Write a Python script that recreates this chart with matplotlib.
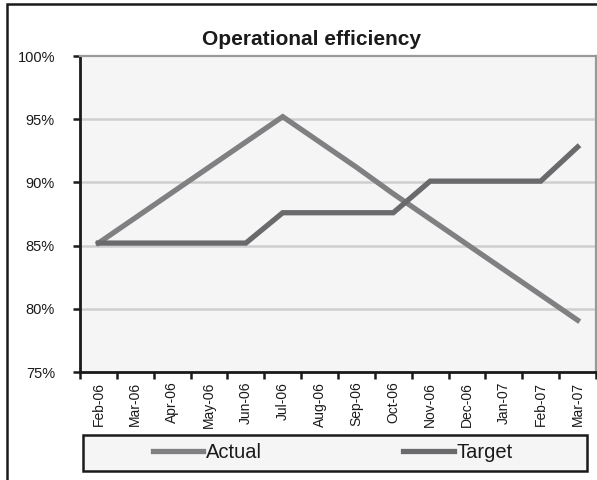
import matplotlib
matplotlib.use("Agg")
import matplotlib.pyplot as plt
from matplotlib.patches import Rectangle
from matplotlib.ticker import FixedLocator, FuncFormatter

plt.rcParams["font.family"] = ["Liberation Sans", "DejaVu Sans"]

# ---- data ----
months = ["Feb-06", "Mar-06", "Apr-06", "May-06", "Jun-06", "Jul-06", "Aug-06",
          "Sep-06", "Oct-06", "Nov-06", "Dec-06", "Jan-07", "Feb-07", "Mar-07"]
actual = [85.2, 87.2, 89.2, 91.2, 93.2, 95.2, 93.2, 91.2, 89.1, 87.1, 85.1, 83.1, 81.1, 79.1]
target = [85.2, 85.2, 85.2, 85.2, 85.2, 87.6, 87.6, 87.6, 87.6, 90.1, 90.1, 90.1, 90.1, 92.8]
y_ticks = [75, 80, 85, 90, 95, 100]

ACTUAL_COLOR = "#808083"
TARGET_COLOR = "#6a6a6d"
LW = 3.8

fig = plt.figure(figsize=(5.97, 4.8), dpi=100)
fig.patch.set_facecolor("white")

# outer chart frame (runs off the right/bottom edge)
fig.patches.append(Rectangle((7 / 597, -0.1), 1.2, (480 - 4) / 480 + 0.1,
                             transform=fig.transFigure, fill=False,
                             edgecolor="#1a1a1a", linewidth=1.8))

ax = fig.add_axes([80 / 597, (480 - 372) / 480, 516 / 597, 316 / 480])
ax.set_facecolor("#f5f5f5")

x = list(range(len(months)))
ax.plot(x, actual, color=ACTUAL_COLOR, lw=LW, label="Actual", solid_joinstyle="miter")
ax.plot(x, target, color=TARGET_COLOR, lw=LW, label="Target", solid_joinstyle="miter")

ax.set_xlim(-0.5, len(months) - 0.5)
ax.set_ylim(75, 100)

# grid
for v in y_ticks[1:-1]:
    ax.axhline(v, color="#cfcfcf", lw=1.8, zorder=0)

ax.yaxis.set_major_locator(FixedLocator(y_ticks))
ax.yaxis.set_major_formatter(FuncFormatter(lambda v, _: f"{v:.0f}%"))
ax.tick_params(axis="y", direction="out", length=5, width=1.8, pad=13,
               labelsize=10.5, color="#1a1a1a", labelcolor="#1a1a1a")

# category labels centred, ticks on boundaries
ax.set_xticks(x)
ax.set_xticklabels(months, rotation=90, fontsize=10, color="#1a1a1a")
ax.set_xticks([i - 0.5 for i in range(len(months) + 1)], minor=True)
ax.tick_params(axis="x", which="major", length=0, pad=7)
ax.tick_params(axis="x", which="minor", direction="out", length=5, width=1.8,
               color="#1a1a1a")

for side in ("left", "bottom"):
    ax.spines[side].set_color("#1a1a1a")
    ax.spines[side].set_linewidth(2)
for side in ("top", "right"):
    ax.spines[side].set_color("#999999")
    ax.spines[side].set_linewidth(1.6)

fig.text(311 / 597, 1 - 45 / 480, "Operational efficiency", ha="center",
         va="baseline", fontsize=15, fontweight="bold", color="#1a1a1a")

# legend box
fig.patches.append(Rectangle((83 / 597, (480 - 471) / 480), 504 / 597, 36 / 480,
                             transform=fig.transFigure, facecolor="#f5f5f5",
                             edgecolor="#1a1a1a", linewidth=1.8))
handles, labels = ax.get_legend_handles_labels()
leg = fig.legend(handles, labels, loc="center",
                 bbox_to_anchor=(333 / 597, 1 - 453 / 480), ncol=2,
                 frameon=False, fontsize=14.5, handlelength=2.5,
                 handletextpad=0.15, columnspacing=7.0)
for t in leg.get_texts():
    t.set_color("#1a1a1a")

fig.savefig("out.png", dpi=100)
